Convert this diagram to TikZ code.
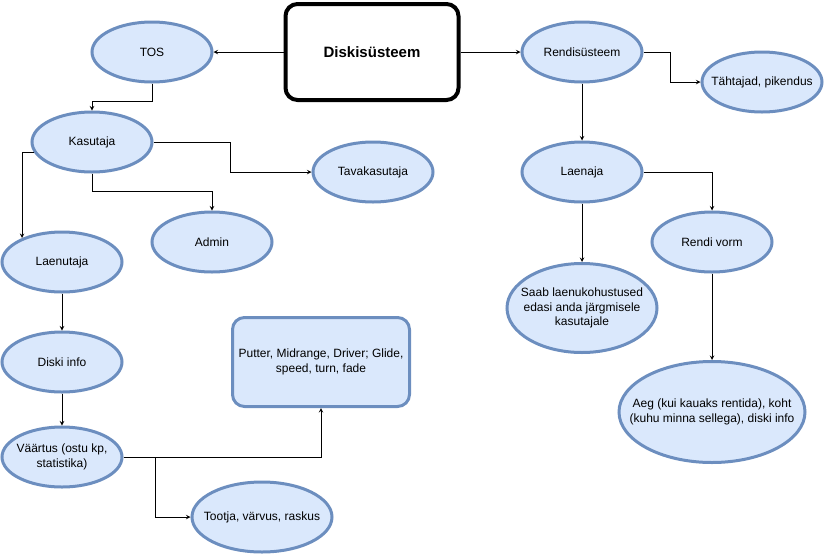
\documentclass[tikz,border=0pt]{standalone}
\usepackage{fontspec}
\setmainfont{Liberation Sans}
\usetikzlibrary{shapes,arrows}
\definecolor{bubblefill}{HTML}{DAE8FC}
\definecolor{bubbleline}{HTML}{6C8EBF}
\tikzstyle{bubble} = [ellipse, draw=bubbleline, line width=3pt, fill=bubblefill, minimum width=120pt, minimum height=60pt, inner sep=-20pt, align=center, font=\fontsize{12}{14.5}\selectfont]
\tikzstyle{infobox} = [rectangle, rounded corners=12pt, draw=bubbleline, line width=3pt, fill=bubblefill, minimum width=177pt, minimum height=89pt, align=center, font=\fontsize{12}{14.5}\selectfont]
\tikzstyle{mainbox} = [rectangle, rounded corners=12pt, draw=black, line width=4pt, fill=white, minimum width=173pt, minimum height=96pt, font=\bfseries\fontsize{15}{18}\selectfont]
\tikzstyle{arrow} = [line width=1pt,->,>=stealth]
\begin{document}
\begin{tikzpicture}[x=1pt, y=-1pt]
    \useasboundingbox (0,0) rectangle (825,555);
    % Place nodes
    \node [mainbox] (disk) at (372,52) {Diskisüsteem};
    \node [bubble] (tos) at (152,52) {TOS};
    \node [bubble] (kasutaja) at (92,142) {Kasutaja};
    \node [bubble] (tavak) at (373,172) {Tavakasutaja};
    \node [bubble] (admin) at (212,242) {Admin};
    \node [bubble] (laenutaja) at (62,262) {Laenutaja};
    \node [bubble] (diskiinfo) at (62,362) {Diski info};
    \node [bubble] (vaartus) at (62,457) {Väärtus (ostu kp,\\statistika)};
    \node [infobox] (putter) at (321,362) {Putter, Midrange, Driver; Glide,\\speed, turn, fade};
    \node [bubble, minimum width=140pt, minimum height=70pt] (tootja) at (262,517) {Tootja, värvus, raskus};
    \node [bubble] (rendis) at (582,52) {Rendisüsteem};
    \node [bubble] (tahtajad) at (762,82) {Tähtajad, pikendus};
    \node [bubble] (laenaja) at (582,172) {Laenaja};
    \node [bubble] (rendivorm) at (712,242) {Rendi vorm};
    \node [bubble, minimum width=150pt, minimum height=89pt] (saab) at (582,308) {Saab laenukohustused\\edasi anda järgmisele\\kasutajale};
    \node [bubble, minimum width=186pt, minimum height=101pt] (aeg) at (712,412) {Aeg (kui kauaks rentida), koht\\(kuhu minna sellega), diski info};

    % Draw edges
    \draw [arrow] (disk) -- (tos);
    \draw [arrow] (disk) -- (rendis);
    \draw [arrow] (tos.south) -- ++(0,18) -| (kasutaja.north);
    \draw [arrow] (kasutaja.east) -- ++(77,0) |- (tavak.west);
    \draw [arrow] (kasutaja.south) -- ++(0,18) -| (admin.north);
    \draw [arrow] (kasutaja.190) -| (laenutaja.149);
    \draw [arrow] (laenutaja) -- (diskiinfo);
    \draw [arrow] (diskiinfo) -- (vaartus);
    \draw [arrow] (vaartus.east) -| (putter.south);
    \draw [arrow] (vaartus.east) -- ++(32,0) |- (tootja.west);
    \draw [arrow] (rendis.east) -- ++(27,0) |- (tahtajad.west);
    \draw [arrow] (rendis) -- (laenaja);
    \draw [arrow] (laenaja.east) -| (rendivorm.north);
    \draw [arrow] (laenaja) -- (saab);
    \draw [arrow] (rendivorm) -- (aeg);
\end{tikzpicture}
\end{document}
